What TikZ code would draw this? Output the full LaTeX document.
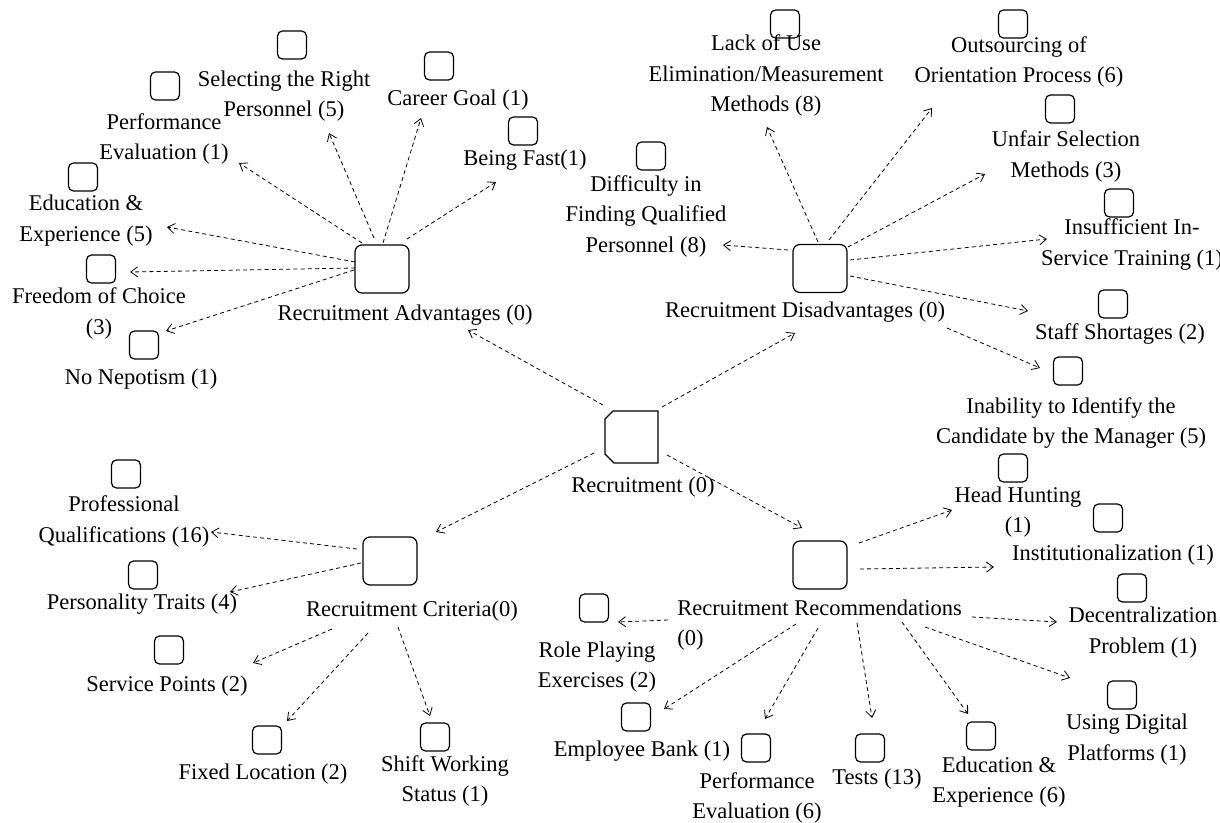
\documentclass[tikz,border=0pt]{standalone}
\usepackage{fontspec}
\setmainfont{Liberation Serif}
\usetikzlibrary{arrows.meta}
\newcommand\myNL{\\\strut}
\begin{document}
\begin{tikzpicture}[x=0.5pt,y=-0.5pt,
  leafbox/.style={draw,line width=0.6pt,rounded corners=2.5pt,minimum width=14.5pt,minimum height=14pt,inner sep=0pt},
  hubbox/.style={draw,line width=0.6pt,rounded corners=3.5pt,minimum width=27pt,minimum height=24pt,inner sep=0pt},
  lbl/.style={align=center,inner sep=0pt,font=\fontsize{11.25pt}{15.25pt}\selectfont,execute at begin node=\strut},
  link/.style={-{Straight Barb[length=3.5pt,width=5pt]},line width=0.4pt,dash pattern=on 2pt off 1.6pt}]
\useasboundingbox (0,0) rectangle (1220,823);

% ---------- central node ----------
\node[minimum width=26.5pt,minimum height=26pt,inner sep=0pt] (rec) at (631.5,437) {};
\draw[line width=0.6pt] (605,419) -- (613,411) -- (658,411) -- (658,463) -- (614,463) -- (605,454) -- cycle;
\node[lbl] (recL) at (643,486.5) {Recruitment (0)};

% ---------- hubs ----------
\node[hubbox] (adv) at (382,269) {};
\node[lbl] (advL) at (405,314.5) {Recruitment Advantages (0)};
\node[hubbox] (dis) at (820,268.5) {};
\node[lbl] (disL) at (805,311.5) {Recruitment Disadvantages (0)};
\node[hubbox] (crit) at (390,561) {};
\node[lbl] (critL) at (412,610.5) {Recruitment Criteria(0)};
\node[hubbox] (reco) at (820,565) {};
\node[lbl,align=left,anchor=west] (recoL) at (677,627.5) {Recruitment Recommendations\myNL(0)};

% ---------- advantages leaves ----------
\node[leafbox] (a1) at (292,45) {};
\node[lbl] (a1L) at (284,98.5) {Selecting the Right\myNL Personnel (5)};
\node[leafbox] (a2) at (165,86) {};
\node[lbl] (a2L) at (164,141) {Performance\myNL Evaluation (1)};
\node[leafbox] (a3) at (439,66) {};
\node[lbl] (a3L) at (458,99.5) {Career Goal (1)};
\node[leafbox] (a4) at (523,131) {};
\node[lbl] (a4L) at (525,159.5) {Being Fast(1)};
\node[leafbox] (a5) at (83,177) {};
\node[lbl] (a5L) at (86,223) {Education \&\myNL Experience (5)};
\node[leafbox] (a6) at (101,269) {};
\node[lbl] (a6L) at (99,315.5) {Freedom of Choice\myNL(3)};
\node[leafbox] (a7) at (144,345) {};
\node[lbl] (a7L) at (141,378.5) {No Nepotism (1)};

% ---------- disadvantages leaves ----------
\node[leafbox] (d1) at (785,24) {};
\node[lbl] (d1L) at (766,78) {Lack of Use\myNL Elimination/Measurement\myNL Methods (8)};
\node[leafbox] (d2) at (1013,24) {};
\node[lbl] (d2L) at (1019,64) {Outsourcing of\myNL Orientation Process (6)};
\node[leafbox] (d3) at (1060,109) {};
\node[lbl] (d3L) at (1066,158.5) {Unfair Selection\myNL Methods (3)};
\node[leafbox] (d4) at (1119,203) {};
\node[lbl] (d4L) at (1132,246.5) {Insufficient In-\myNL Service Training (1)};
\node[leafbox] (d5) at (1113,304) {};
\node[lbl] (d5L) at (1120,333.5) {Staff Shortages (2)};
\node[leafbox] (d6) at (1068,371) {};
\node[lbl] (d6L) at (1071,425) {Inability to Identify the\myNL Candidate by the Manager (5)};
\node[leafbox] (d7) at (651,156) {};
\node[lbl] (d7L) at (646,218.5) {Difficulty in\myNL Finding Qualified\myNL Personnel (8)};

% ---------- criteria leaves ----------
\node[leafbox] (c1) at (126,474) {};
\node[lbl] (c1L) at (124,523.5) {Professional\myNL Qualifications (16)};
\node[leafbox] (c2) at (143,575) {};
\node[lbl] (c2L) at (142,603.5) {Personality Traits (4)};
\node[leafbox] (c3) at (169,650) {};
\node[lbl] (c3L) at (167,685.5) {Service Points (2)};
\node[leafbox] (c4) at (267,740) {};
\node[lbl] (c4L) at (263,773.5) {Fixed Location (2)};
\node[leafbox] (c5) at (435,737) {};
\node[lbl] (c5L) at (445,783) {Shift Working\myNL Status (1)};

% ---------- recommendations leaves ----------
\node[leafbox] (r1) at (1013,468) {};
\node[lbl] (r1L) at (1018,514.5) {Head Hunting\myNL(1)};
\node[leafbox] (r2) at (1108,518) {};
\node[lbl] (r2L) at (1113,554.5) {Institutionalization (1)};
\node[leafbox] (r3) at (1132,588) {};
\node[lbl] (r3L) at (1143,635) {Decentralization\myNL Problem (1)};
\node[leafbox] (r4) at (1122,695) {};
\node[lbl] (r4L) at (1127,742) {Using Digital\myNL Platforms (1)};
\node[leafbox] (r5) at (981,736) {};
\node[lbl] (r5L) at (999,784.5) {Education \&\myNL Experience (6)};
\node[leafbox] (r6) at (870,748) {};
\node[lbl] (r6L) at (877,778.5) {Tests (13)};
\node[leafbox] (r7) at (756,748) {};
\node[lbl] (r7L) at (757,800) {Performance\myNL Evaluation (6)};
\node[leafbox] (r8) at (636,717) {};
\node[lbl] (r8L) at (642,750.5) {Employee Bank (1)};
\node[leafbox] (r9) at (594,608) {};
\node[lbl] (r9L) at (597,669.5) {Role Playing\myNL Exercises (2)};

% ---------- connector end points ----------
% central
\coordinate (sRA) at (603,405); \coordinate (tRA) at (468,330);
\coordinate (sRD) at (662,407); \coordinate (tRD) at (795,333);
\coordinate (sRC) at (594,453); \coordinate (tRC) at (436,532);
\coordinate (sRR) at (667,455); \coordinate (tRR) at (802,528);
% advantages
\coordinate (sA1) at (374,238); \coordinate (tA1) at (329,133);
\coordinate (sA2) at (362,243); \coordinate (tA2) at (239,163);
\coordinate (sA3) at (383,243); \coordinate (tA3) at (421,118);
\coordinate (sA4) at (407,239); \coordinate (tA4) at (496,182);
\coordinate (sA5) at (355,262); \coordinate (tA5) at (167,227);
\coordinate (sA6) at (355,268); \coordinate (tA6) at (130,272);
\coordinate (sA7) at (354,270); \coordinate (tA7) at (166,331);
% disadvantages
\coordinate (sD1) at (818,242); \coordinate (tD1) at (767,127);
\coordinate (sD2) at (829,240); \coordinate (tD2) at (932,108);
\coordinate (sD3) at (848,247); \coordinate (tD3) at (985,174);
\coordinate (sD4) at (850,260); \coordinate (tD4) at (1047,239);
\coordinate (sD5) at (850,276); \coordinate (tD5) at (1028,311);
\coordinate (sD6) at (947,328); \coordinate (tD6) at (1040,368);
\coordinate (sD7) at (788,250); \coordinate (tD7) at (723,245);
% criteria
\coordinate (sC1) at (357,549); \coordinate (tC1) at (211,532);
\coordinate (sC2) at (361,563); \coordinate (tC2) at (230,592);
\coordinate (sC3) at (332,629); \coordinate (tC3) at (253,663);
\coordinate (sC4) at (368,633); \coordinate (tC4) at (287,721);
\coordinate (sC5) at (398,627); \coordinate (tC5) at (430,716);
% recommendations
\coordinate (sR1) at (859,543); \coordinate (tR1) at (952,510);
\coordinate (sR2) at (860,569); \coordinate (tR2) at (994,567);
\coordinate (sR3) at (972,617); \coordinate (tR3) at (1057,622);
\coordinate (sR4) at (925,627); \coordinate (tR4) at (1070,678);
\coordinate (sR5) at (902,622); \coordinate (tR5) at (968,714);
\coordinate (sR6) at (857,623); \coordinate (tR6) at (872,718);
\coordinate (sR7) at (818,628); \coordinate (tR7) at (765,719);
\coordinate (sR8) at (796,624); \coordinate (tR8) at (664,709);
\coordinate (sR9) at (668,620); \coordinate (tR9) at (618,622);

% ---------- connectors ----------
\foreach \n in {RA,RD,RC,RR,A1,A2,A3,A4,A5,A6,A7,D1,D2,D3,D4,D5,D6,D7,C1,C2,C3,C4,C5,R1,R2,R3,R4,R5,R6,R7,R8,R9}
  \draw[link] (s\n) -- (t\n);
\end{tikzpicture}
\end{document}
